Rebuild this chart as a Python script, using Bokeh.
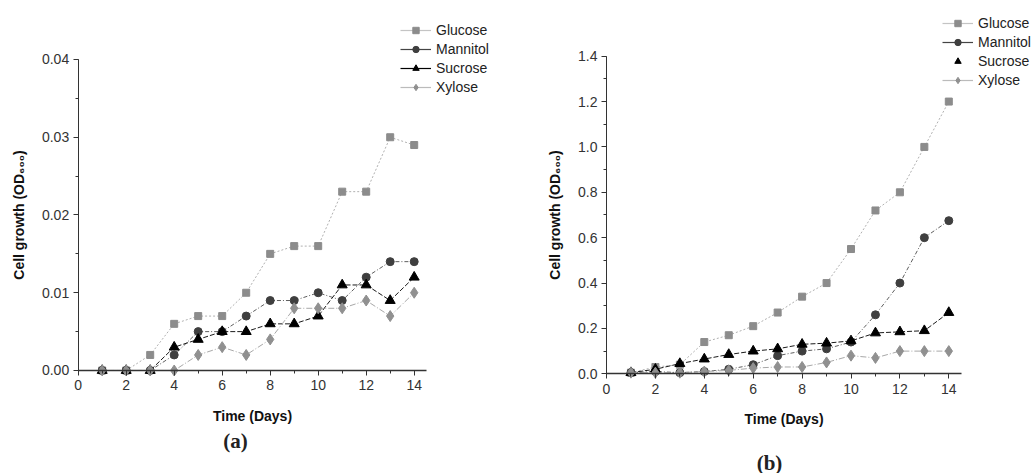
from bokeh.plotting import figure
from bokeh.layouts import row
from bokeh.models import (Range1d, SingleIntervalTicker, PrintfTickFormatter,
                          Legend, LegendItem, Label)
from bokeh.embed import file_html
from bokeh.resources import INLINE

days = [1, 2, 3, 4, 5, 6, 7, 8, 9, 10, 11, 12, 13, 14]

# Panel (a)
a_glucose = [0, 0, 0.002, 0.006, 0.007, 0.007, 0.010, 0.015, 0.016, 0.016, 0.023, 0.023, 0.030, 0.029]
a_mannitol = [0, 0, 0, 0.002, 0.005, 0.005, 0.007, 0.009, 0.009, 0.010, 0.009, 0.012, 0.014, 0.014]
a_sucrose = [0, 0, 0, 0.003, 0.004, 0.005, 0.005, 0.006, 0.006, 0.007, 0.011, 0.011, 0.009, 0.012]
a_xylose = [0, 0, 0, 0, 0.002, 0.003, 0.002, 0.004, 0.008, 0.008, 0.008, 0.009, 0.007, 0.010]

# Panel (b)
b_glucose = [0.005, 0.03, 0.04, 0.14, 0.17, 0.21, 0.27, 0.34, 0.40, 0.55, 0.72, 0.80, 1.00, 1.20]
b_mannitol = [0.005, 0.01, 0.005, 0.01, 0.02, 0.04, 0.08, 0.10, 0.11, 0.14, 0.26, 0.40, 0.60, 0.675]
b_sucrose = [0.005, 0.02, 0.045, 0.065, 0.085, 0.10, 0.11, 0.13, 0.135, 0.145, 0.18, 0.185, 0.19, 0.27]
b_xylose = [0.005, 0.005, 0.005, 0.01, 0.015, 0.025, 0.03, 0.03, 0.05, 0.08, 0.07, 0.10, 0.10, 0.10]

names = ["Glucose", "Mannitol", "Sucrose", "Xylose"]
x_title = "Time (Days)"
y_title = "Cell growth (OD\u2086\u2080\u2080)"

styles = {
    "Glucose": dict(marker="square", size=7, mcolor="#8c8c8c", lcolor="#b0b0b0", dash="2 2"),
    "Mannitol": dict(marker="circle", size=8, mcolor="#3f3f3f", lcolor="#5f5f5f", dash="4 2 1 2"),
    "Sucrose": dict(marker="triangle", size=10, mcolor="#000000", lcolor="#1a1a1a", dash="5 2"),
    "Xylose": dict(marker="diamond", size=11, mcolor="#909090", lcolor="#a8a8a8", dash="6 2 1 2"),
}
legend_line_colors = {"Glucose": "#c4c4c4", "Mannitol": "#444444",
                      "Sucrose": "#000000", "Xylose": "#bbbbbb"}

FONT = "Liberation Sans"
NAN = float("nan")


def make_panel(series, xr, yr, xmax, ymax, yint, fmt, legend_loc, legend_nolines,
               caption, cap_pos, ylab_standoff, xlab_standoff):
    p = figure(width=516, height=473, output_backend="svg", toolbar_location=None,
               x_range=Range1d(*xr), y_range=Range1d(*yr),
               min_border_left=0, min_border_right=0, min_border_top=0, min_border_bottom=0)
    p.outline_line_color = None
    p.xgrid.grid_line_color = None
    p.ygrid.grid_line_color = None
    p.background_fill_color = "white"
    p.border_fill_color = "white"

    p.xaxis.ticker = SingleIntervalTicker(interval=2, num_minor_ticks=2)
    p.yaxis.ticker = SingleIntervalTicker(interval=yint, num_minor_ticks=2)
    p.yaxis.formatter = PrintfTickFormatter(format=fmt)
    p.xaxis.fixed_location = 0
    p.yaxis.fixed_location = 0
    p.xaxis.bounds = (0, xmax)
    p.yaxis.bounds = (0, ymax * 1.0005)
    for ax in (p.xaxis, p.yaxis):
        ax.axis_line_color = "#333333"
        ax.major_tick_line_color = "#333333"
        ax.minor_tick_line_color = "#333333"
        ax.major_tick_out = 5
        ax.major_tick_in = 0
        ax.minor_tick_out = 3
        ax.minor_tick_in = 0
        ax.major_label_text_font = FONT
        ax.major_label_text_font_size = "14px"
        ax.major_label_text_color = "#333333"
        ax.axis_label_text_font = FONT
        ax.axis_label_text_font_style = "bold"
        ax.axis_label_text_font_size = "14px"
        ax.axis_label_text_color = "#111111"
    p.xaxis.axis_line_width = 1.6
    p.yaxis.axis_line_width = 1.0
    p.xaxis.major_label_standoff = 5
    p.yaxis.major_label_standoff = 4
    p.xaxis.axis_label = x_title
    p.yaxis.axis_label = y_title
    p.xaxis.axis_label_standoff = xlab_standoff
    p.yaxis.axis_label_standoff = ylab_standoff

    items = []
    for name, vals in zip(names, series):
        s = styles[name]
        p.line(days, vals, line_color=s["lcolor"], line_width=1, line_dash=s["dash"])
        p.scatter(days, vals, marker=s["marker"], size=s["size"], fill_color=s["mcolor"],
                  line_color=s["mcolor"])
        rs = []
        if name not in legend_nolines:
            rs.append(p.line([NAN], [NAN], line_color=legend_line_colors[name], line_width=1.2))
        rs.append(p.scatter([NAN], [NAN], marker=s["marker"], size=s["size"],
                            fill_color=s["mcolor"], line_color=s["mcolor"]))
        items.append(LegendItem(label=name, renderers=rs))

    leg = Legend(items=items, location=legend_loc, border_line_color=None,
                 background_fill_alpha=0, padding=0, margin=0, spacing=3,
                 glyph_width=31, glyph_height=16, label_height=16, label_standoff=5,
                 label_text_font=FONT, label_text_font_size="14px", label_text_color="#222222")
    p.add_layout(leg, "center")

    lab = Label(x=cap_pos[0], y=cap_pos[1], x_units="screen", y_units="screen", text=caption,
                text_align="center", text_baseline="middle", text_font="Liberation Serif",
                text_font_size="21px", text_font_style="bold", text_color="#222222")
    p.add_layout(lab)
    return p


pa = make_panel([a_glucose, a_mannitol, a_sucrose, a_xylose],
                (-3.2375, 18.2625), (-0.013248, 0.047588), 14.5, 0.04, 0.01, "%.2f",
                (400, 378), [], "(a)", (235, 33), 12, 14)
pb = make_panel([b_glucose, b_mannitol, b_sucrose, b_xylose],
                (-3.681, 17.423), (-0.4395, 1.6455), 14.5, 1.4, 0.2, "%.1f",
                (426, 385), ["Sucrose"], "(b)", (253, 11), 12, 14)

layout = row(pa, pb)
open("out.html", "w").write(file_html(layout, INLINE))
